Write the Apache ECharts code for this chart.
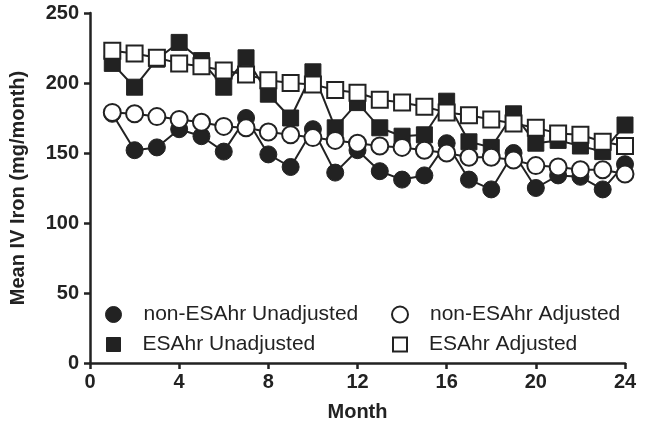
<!DOCTYPE html>
<html>
<head>
<meta charset="utf-8">
<script src="https://cdn.jsdelivr.net/npm/echarts@6/dist/echarts.min.js"></script>
<style>
  html, body { margin: 0; padding: 0; background: #fff; }
  #chart { width: 666px; height: 433px; }
</style>
</head>
<body>
<div id="chart"></div>
<script>
"use strict";
// months 1..24
var months = [1, 2, 3, 4, 5, 6, 7, 8, 9, 10, 11, 12, 13, 14, 15, 16, 17, 18, 19, 20, 21, 22, 23, 24];
var nonEsaUnadj = [178, 152, 154, 167, 162, 151, 175, 149, 140, 167, 136, 152, 137, 131, 134, 157, 131, 124, 150, 125, 134, 133, 124, 142];
var nonEsaAdj = [179, 178, 176, 174, 172, 169, 168, 165, 163, 161, 159, 157, 155, 154, 152, 150, 147, 147, 145, 141, 140, 138, 138, 135];
var esaUnadj = [214, 197, 217, 229, 216, 197, 218, 192, 175, 208, 168, 186, 168, 162, 163, 187, 158, 154, 178, 157, 159, 155, 151, 170];
var esaAdj = [223, 221, 218, 214, 212, 209, 206, 202, 200, 199, 195, 193, 188, 186, 183, 179, 177, 174, 171, 168, 164, 163, 158, 155];
var xTicks = [0, 4, 8, 12, 16, 20, 24];
var yTicks = [0, 50, 100, 150, 200, 250];

var ink = "#222";
var font = "Liberation Sans, Arial, sans-serif";

function pairs(vals) {
    return months.map(function (m, i) { return [m, vals[i]]; });
}

var filledStyle = { color: ink, borderColor: ink, borderWidth: 1 };
var openStyle = { color: "#fff", borderColor: ink, borderWidth: 2 };

function makeSeries(name, vals, symbol, style, z) {
    return {
        name: name,
        type: "line",
        data: pairs(vals),
        symbol: symbol,
        symbolSize: symbol === "circle" ? 17 : 16,
        showAllSymbol: true,
        z: z,
        lineStyle: { color: ink, width: 2 },
        itemStyle: style,
        emphasis: { disabled: true },
        animation: false
    };
}

function legendAt(left, top, name, icon, style, size) {
    return {
        left: left,
        top: top,
        padding: 0,
        itemWidth: size,
        itemHeight: size,
        selectedMode: false,
        data: [{ name: name, icon: icon, itemStyle: style }],
        textStyle: { fontSize: 21, color: ink, fontFamily: font, padding: [0, 0, 0, 17] }
    };
}

var chart = echarts.init(document.getElementById("chart"));
var option = {
    backgroundColor: "#fff",
    animation: false,
    grid: { left: 88, right: 41, top: 13, bottom: 70 },
    legend: [
        legendAt(105, 304, "non-ESAhr Unadjusted", "circle", filledStyle, 16),
        legendAt(391, 304, "non-ESAhr Adjusted", "circle", openStyle, 16),
        legendAt(106, 334, "ESAhr Unadjusted", "rect", filledStyle, 14),
        legendAt(392, 334, "ESAhr Adjusted", "rect", openStyle, 14)
    ],
    xAxis: {
        type: "value",
        min: xTicks[0],
        max: xTicks[xTicks.length - 1],
        interval: 4,
        name: "Month",
        nameLocation: "middle",
        nameGap: 39,
        nameTextStyle: { fontSize: 20, fontWeight: "bold", color: ink, fontFamily: font },
        axisLine: { onZero: false, lineStyle: { color: ink, width: 2.5 } },
        axisTick: { length: 6, lineStyle: { color: ink, width: 2.5 } },
        axisLabel: { margin: 9, fontSize: 20, fontWeight: "bold", color: ink, fontFamily: font },
        splitLine: { show: false }
    },
    yAxis: {
        type: "value",
        min: yTicks[0],
        max: yTicks[yTicks.length - 1],
        interval: 50,
        name: "Mean IV Iron (mg/month)",
        nameLocation: "middle",
        nameRotate: 90,
        nameGap: 62,
        nameTextStyle: { fontSize: 20, fontWeight: "bold", color: ink, fontFamily: font },
        axisLine: { show: true, lineStyle: { color: ink, width: 2.5 } },
        axisTick: { show: true, length: 6, lineStyle: { color: ink, width: 2.5 } },
        axisLabel: { margin: 11, fontSize: 20, fontWeight: "bold", color: ink, fontFamily: font },
        splitLine: { show: false }
    },
    series: [
        makeSeries("non-ESAhr Unadjusted", nonEsaUnadj, "circle", filledStyle, 2),
        makeSeries("ESAhr Unadjusted", esaUnadj, "rect", filledStyle, 3),
        makeSeries("non-ESAhr Adjusted", nonEsaAdj, "circle", openStyle, 4),
        makeSeries("ESAhr Adjusted", esaAdj, "rect", openStyle, 5)
    ]
};
chart.setOption(option);
</script>
</body>
</html>
